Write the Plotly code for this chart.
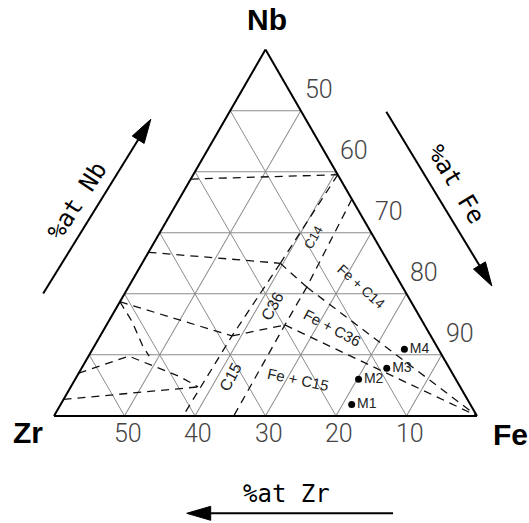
import math
import plotly.graph_objects as go

W_FIG, H_FIG = 529, 523

# ---------------- data (ternary: Nb, Zr, Fe in at.%) ----------------
grid_nb = [10, 20, 30, 40, 50]
tick_zr = [10, 20, 30, 40, 50]
tick_fe = [50, 60, 70, 80, 90]

# phase boundaries (dashed)
line_a_nb = [38.8, 39.5];  line_a_zr = [21.2, 0.0];  line_a_fe = [40.0, 60.5]
line_c_nb = [26.8, 25.0];  line_c_zr = [33.2, 15.4]; line_c_fe = [40.0, 59.6]
line_b_nb = [39.5, 25.0];  line_b_zr = [0.0, 15.4];  line_b_fe = [60.5, 59.6]
laves_r_nb = [35.5, 21.1, 14.9, 0.0]
laves_r_zr = [0.0, 13.6, 19.8, 34.5]
laves_r_fe = [64.5, 65.3, 65.3, 65.5]
laves_l_nb = [25.0, 13.1, 6.4, 0.0]
laves_l_zr = [15.4, 28.2, 35.1, 41.7]
laves_l_fe = [59.6, 58.7, 58.5, 58.3]
c14_c36_nb = [25.0, 21.1]; c14_c36_zr = [15.4, 13.6]; c14_c36_fe = [59.6, 65.3]
line_d_nb = [18.7, 13.1];  line_d_zr = [41.3, 28.2]; line_d_fe = [40.0, 58.7]
c36_c15_nb = [13.1, 14.9]; c36_c15_zr = [28.2, 19.8]; c36_c15_fe = [58.7, 65.3]
tie_t_nb = [21.1, 0.0];    tie_t_zr = [13.6, 0.0];   tie_t_fe = [65.3, 100.0]
tie_x_nb = [14.9, 0.0];    tie_x_zr = [19.8, 0.0];   tie_x_fe = [65.3, 100.0]
line_e_nb = [7.0, 9.8, 6.4, 4.75]
line_e_zr = [53.0, 44.5, 38.9, 37.2]
line_e_fe = [40.0, 45.7, 54.7, 58.05]
line_f_nb = [2.7, 4.75];   line_f_zr = [57.3, 37.2]; line_f_fe = [40.0, 58.05]
line_h_nb = [18.7, 15.4, 11.4, 9.8]
line_h_zr = [41.3, 41.2, 41.7, 41.6]
line_h_fe = [40.0, 43.4, 46.9, 48.6]

# alloys
pt_names = ["M1", "M2", "M3", "M4"]
pt_nb = [1.85, 6.0, 7.8, 10.9]
pt_zr = [16.85, 13.8, 8.9, 4.85]
pt_fe = [81.3, 80.2, 83.3, 84.25]

# phase-field labels
lab_text = ["C14", "C36", "C15", "Fe + C14", "Fe + C36", "Fe + C15"]
lab_nb = [29.3, 17.9, 6.4, 21.2, 14.4, 5.9]
lab_zr = [8.6, 20.1, 31.7, 5.9, 13.4, 22.4]
lab_fe = [62.1, 62.0, 61.9, 72.9, 72.2, 71.7]

# ---------------- styles ----------------
lab_angle = [-60, -62, -62, 42, 28, 12]
lab_size = [13, 16, 16, 14, 15, 15]

# ---------------- geometry of the ternary subplot ----------------
DX = [54 / W_FIG, 477 / W_FIG]
DY = [1 - 416.5 / H_FIG, 1 - 49.0 / H_FIG]
X0 = DX[0] * W_FIG
TW = (DX[1] - DX[0]) * W_FIG
YC = (1 - (DY[0] + DY[1]) / 2) * H_FIG
YB = YC + TW * math.sqrt(3) / 4


def tern_to_px(nb, zr, fe):
    wa = nb / 60.0
    wr = (fe - 40.0) / 60.0
    x = X0 + TW * (wr + wa / 2)
    y = YB - wa * TW * math.sqrt(3) / 2
    return x, y


def px(x, y):
    return x / W_FIG, 1 - y / H_FIG


fig = go.Figure()

dash_style = dict(color="#111111", width=1.3, dash="8px,6px")
for a, b, c in [
    (line_a_nb, line_a_zr, line_a_fe),
    (line_c_nb, line_c_zr, line_c_fe),
    (line_b_nb, line_b_zr, line_b_fe),
    (laves_r_nb, laves_r_zr, laves_r_fe),
    (laves_l_nb, laves_l_zr, laves_l_fe),
    (c14_c36_nb, c14_c36_zr, c14_c36_fe),
    (line_d_nb, line_d_zr, line_d_fe),
    (c36_c15_nb, c36_c15_zr, c36_c15_fe),
    (tie_t_nb, tie_t_zr, tie_t_fe),
    (tie_x_nb, tie_x_zr, tie_x_fe),
    (line_e_nb, line_e_zr, line_e_fe),
    (line_f_nb, line_f_zr, line_f_fe),
    (line_h_nb, line_h_zr, line_h_fe),
]:
    fig.add_trace(go.Scatterternary(a=a, b=b, c=c, mode="lines", line=dash_style,
                                    hoverinfo="skip", showlegend=False))

fig.add_trace(go.Scatterternary(
    a=pt_nb, b=pt_zr, c=pt_fe, mode="markers+text", text=pt_names,
    textposition="middle right",
    marker=dict(size=7, color="black"),
    textfont=dict(family="Liberation Sans", size=14, color="#222222"),
    showlegend=False, hoverinfo="skip"))

axis_common = dict(ticks="", gridcolor="#8c8c8c", gridwidth=1, showticklabels=False,
                   linecolor="black", linewidth=2, title=dict(text=""))

fig.update_layout(
    width=W_FIG, height=H_FIG,
    margin=dict(l=0, r=0, t=0, b=0),
    paper_bgcolor="white",
    showlegend=False,
    ternary=dict(
        sum=100,
        domain=dict(x=DX, y=DY),
        bgcolor="white",
        aaxis=dict(min=0, tickvals=grid_nb, **axis_common),
        baxis=dict(min=0, tickvals=tick_zr, **axis_common),
        caxis=dict(min=40, tickvals=tick_fe, **axis_common),
    ),
)

annotations = []


def add_text(x_px, y_px, text, font, angle=0):
    xp, yp = px(x_px, y_px)
    annotations.append(dict(x=xp, y=yp, xref="paper", yref="paper", text=text,
                            xanchor="center", yanchor="middle",
                            showarrow=False, textangle=angle, font=font))


# tick labels, placed at the axis values
tick_font = dict(family="Roboto", size=25, color="#444444", weight=300)
for v in tick_zr:
    x, y = tern_to_px(0.0, v, 100.0 - v)
    add_text(x + 3, y + 18, str(v), tick_font)
for v in tick_fe:
    x, y = tern_to_px(100.0 - v, 0.0, v)
    add_text(x + 18, y - 21, str(v), tick_font)

for t, a, b, c, ang, s in zip(lab_text, lab_nb, lab_zr, lab_fe, lab_angle, lab_size):
    x, y = tern_to_px(a, b, c)
    add_text(x, y, t, dict(family="Liberation Sans", size=s, color="#222222"), ang)

corner_font = dict(family="Liberation Sans", size=30, color="black", weight="bold")
for t, (x, y) in [("Nb", (267, 20)), ("Zr", (28, 432)), ("Fe", (510, 434))]:
    add_text(x, y, t, corner_font)

axis_font = dict(family="DejaVu Sans Mono", size=24, color="black")
for t, (x, y), ang in [("%at Nb", (77, 201), -57), ("%at Fe", (456, 184), 59),
                       ("%at Zr", (286, 494), 0)]:
    add_text(x, y, t, axis_font, ang)

fig.update_layout(annotations=annotations)

# decorative arrows
shapes = []
for tail, tip in [((43.2, 293.5), (150.8, 119.3)),
                  ((386.3, 111.7), (491.9, 286.0)),
                  ((393.0, 513.3), (186.7, 513.3))]:
    dx, dy = tip[0] - tail[0], tip[1] - tail[1]
    L = math.hypot(dx, dy)
    ux, uy = dx / L, dy / L
    hl, hw = 24, 7
    bx, by = tip[0] - ux * hl, tip[1] - uy * hl
    x1, y1 = px(*tail)
    x2, y2 = px(bx + ux * 2, by + uy * 2)
    shapes.append(dict(type="line", xref="paper", yref="paper", x0=x1, y0=y1, x1=x2, y1=y2,
                       line=dict(color="black", width=2)))
    p1 = px(*tip)
    p2 = px(bx - uy * hw, by + ux * hw)
    p3 = px(bx + uy * hw, by - ux * hw)
    path = f"M {p1[0]},{p1[1]} L {p2[0]},{p2[1]} L {p3[0]},{p3[1]} Z"
    shapes.append(dict(type="path", xref="paper", yref="paper", path=path,
                       fillcolor="black", line=dict(color="black", width=1)))
fig.update_layout(shapes=shapes)

fig.write_html("out.html", config={"displayModeBar": False},
               post_script="document.body.style.margin='0px';document.body.style.overflow='hidden';")
